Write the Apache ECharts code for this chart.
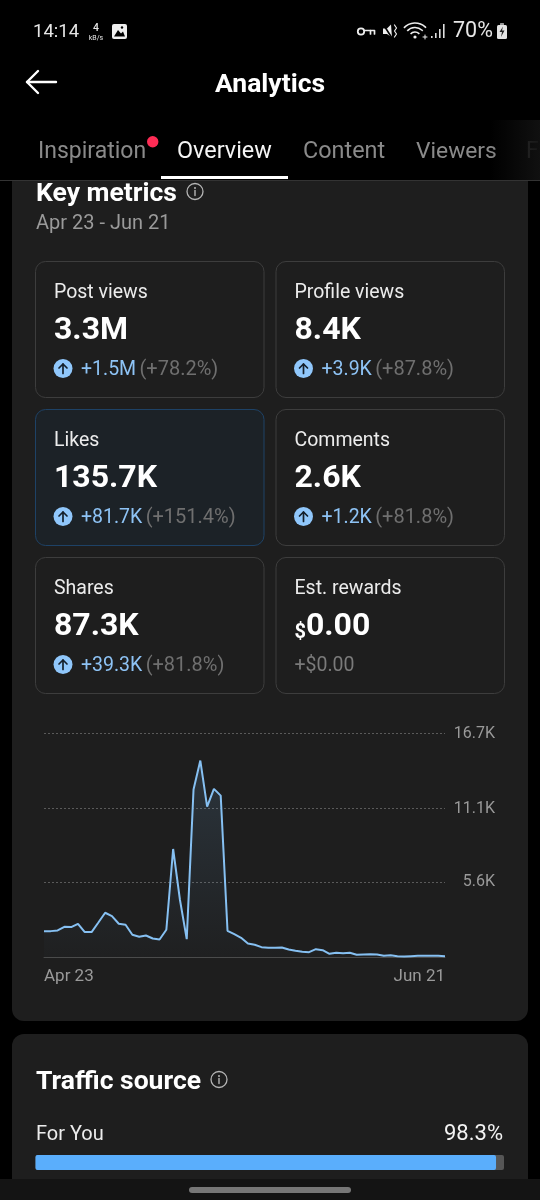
<!DOCTYPE html>
<html><head><meta charset="utf-8">
<style>html,body{margin:0;padding:0;background:#000}#c{width:540px;height:1200px}</style>
<script src="https://cdn.jsdelivr.net/npm/echarts@6/dist/echarts.min.js"></script>
</head><body><div id="c"></div>
<script>
const dates = ['Apr 23','Apr 24','Apr 25','Apr 26','Apr 27','Apr 28','Apr 29','Apr 30','May 1','May 2','May 3','May 4','May 5','May 6','May 7','May 8','May 9','May 10','May 11','May 12','May 13','May 14','May 15','May 16','May 17','May 18','May 19','May 20','May 21','May 22','May 23','May 24','May 25','May 26','May 27','May 28','May 29','May 30','May 31','Jun 1','Jun 2','Jun 3','Jun 4','Jun 5','Jun 6','Jun 7','Jun 8','Jun 9','Jun 10','Jun 11','Jun 12','Jun 13','Jun 14','Jun 15','Jun 16','Jun 17','Jun 18','Jun 19','Jun 20','Jun 21'];
const likes = [1966,1966,2016,2290,2265,2514,1892,1892,2613,3335,3086,2514,2439,1693,1543,1643,1419,1344,2066,8089,4306,1369,12519,14685,11250,12569,12071,1991,1742,1468,1045,946,772,722,722,747,597,498,423,398,622,548,274,348,324,348,199,224,249,224,124,174,100,75,100,124,124,124,124,100];
const yTicks = [5600,11100,16700];
const yTickLabels = ['5.6K','11.1K','16.7K'];
const tileLabels = ['Post views','Profile views','Likes','Comments','Shares','Est. rewards'];
const tileValues = ['3.3M','8.4K','135.7K','2.6K','87.3K','0.00'];
const tileDeltas = ['+1.5M','+3.9K','+81.7K','+1.2K','+39.3K','+$0.00'];
const tilePcts = ['(+78.2%)','(+87.8%)','(+151.4%)','(+81.8%)','(+81.8%)',''];
const trafficLabels = ['For You'];
const trafficShare = [98.3];
const tabs = ['Inspiration','Overview','Content','Viewers','F'];

const F = 'Roboto, sans-serif';
const g = [];
function txt(x,y,t,size,fill,weight,align,extra){
  g.push({type:'text',x,y,silent:true,style:Object.assign({text:t,font:(weight||400)+' '+size+'px '+F,fill,textAlign:align||'left',textVerticalAlign:'middle'},extra||{})});
}
function rect(x,y,w,h,r,fill,stroke,lw){
  g.push({type:'rect',silent:true,shape:{x,y,width:w,height:h,r},style:{fill:fill||'transparent',stroke:stroke||null,lineWidth:lw||1}});
}
function circle(cx,cy,r,fill,stroke,lw){
  g.push({type:'circle',silent:true,shape:{cx,cy,r},style:{fill:fill||'transparent',stroke:stroke||null,lineWidth:lw||1}});
}
function line(pts,stroke,lw){
  g.push({type:'polyline',silent:true,shape:{points:pts},style:{stroke,lineWidth:lw||1,fill:null,lineCap:'round',lineJoin:'round'}});
}
function info(cx,cy){
  circle(cx,cy,8,null,'#b5b5b5',1.3);
  circle(cx,cy-3.6,1,'#b5b5b5');
  line([[cx,cy-1],[cx,cy+4]],'#b5b5b5',1.4);
}
// cards
rect(12,150,516,871,12,'#1e1e1e');
rect(12,1034,516,200,12,'#1e1e1e');
// top bar
rect(0,0,540,180,0,'#000');
rect(0,180,540,1,0,'#333');
txt(33,32,'14:14',18.5,'#e6e6e6',400);
txt(96,28,'4',10.5,'#e6e6e6',500,'center');
txt(96,38.5,'kB/s',7,'#e6e6e6',400,'center');
rect(112,24,15,15,2,'#efefef');
g.push({type:'polygon',silent:true,shape:{points:[[114,36.5],[118,30],[121,33.5],[123,31.5],[125,36.5]]},style:{fill:'#000'}});
circle(122,27.5,1.2,'#000');
// key icon
circle(361,31.5,3.2,null,'#eee',1.8);
line([[364.5,30.5],[374.5,30.5],[374.5,34]],'#eee',1.7);
line([[370.5,30.5],[370.5,34]],'#eee',1.7);
// muted icon
g.push({type:'polygon',silent:true,shape:{points:[[383,28.5],[387,28.5],[391,24.5],[392,37.5],[387,34],[383,34]]},style:{fill:'#eee'}});
line([[383,24],[392,38]],'#000',1.6);
line([[394.5,25],[396.5,28],[394.5,31],[396.5,34],[394.5,37]],'#eee',1.2);
// wifi
[[15,1.6],[10.5,1.6],[6,1.6]].forEach(a=>{
  g.push({type:'arc',silent:true,shape:{cx:415,cy:38,r:a[0],startAngle:-2.4,endAngle:-0.75},style:{stroke:'#eee',fill:null,lineWidth:a[1]}});
});
circle(415,37,1.6,'#eee');
line([[423,37],[427,37]],'#eee',1);
line([[425,35],[425,39]],'#eee',1);
// signal
[[431,36,2],[435,33,5],[439,29,9],[443,24,14]].forEach(b=>rect(b[0],b[1],1.6,b[2],0,'#ddd'));
txt(453,31.5,'70%',21.5,'#e6e6e6',400);
rect(500,23,4,2.5,0.5,'#999'); rect(497,25,10,14,1.5,'#e4e4e4');
g.push({type:'polygon',silent:true,shape:{points:[[503,26.5],[499.5,32],[502,32],[501,37],[504.5,30.5],[502,30.5]]},style:{fill:'#222'}});
// header
line([[56,82],[27,82]],'#fff',2.4);
line([[38,71],[27,82],[38,93]],'#fff',2.4);
txt(270,85,'Analytics',26.5,'#fff',700,'center');
// tabs
txt(38,152,tabs[0],23,'#8a8a8a',400);
circle(152.7,141.7,5.7,'#fe2c55');
txt(177,152,tabs[1],23.4,'#f5f5f5',400);
txt(303,152,tabs[2],23.4,'#8a8a8a',400);
txt(416,152,tabs[3],22.8,'#8a8a8a',400);
txt(526,152,tabs[4],23,'#3e3e3e',400);
rect(161,176,127,3,0,'#fff');
// heading
txt(36,194,'Key metrics',26.5,'#fff',700);
info(195,191.5);
txt(36,223.5,'Apr 23 - Jun 21',20,'#9a9a9a',400);
// tiles
const tx=[35.5,276], ty=[261,409,557];
tileLabels.forEach((lab,i)=>{
  const c=i%2, r=Math.floor(i/2), x=tx[c], y=ty[r]+0.5, hi=i===2;
  rect(x,y,228.5,136,10,hi?'#1c2227':'#1e1e1e',hi?'#1e4266':'#3d3d3d',1);
  txt(x+18.5,y+32,lab,19.5,'#ececec',400);
  if(i===5){
    g.push({type:'text',x:x+18.5,y:y+69,silent:true,style:{text:'{d|$}{v|'+tileValues[i]+'}',textVerticalAlign:'middle',rich:{d:{font:'700 20px '+F,fill:'#fff',verticalAlign:'bottom'},v:{font:'700 32px '+F,fill:'#fff'}}}});
    txt(x+18.5,y+108.5,tileDeltas[i],19.5,'#7a7a7a',400);
  } else {
    txt(x+18.5,y+69,tileValues[i],32,'#fff',700);
    circle(x+27.5,y+107,9.5,'#90c7fb');
    line([[x+27.5,y+112],[x+27.5,y+102.5]],'#15202b',1.7);
    line([[x+23.5,y+106.5],[x+27.5,y+102.5],[x+31.5,y+106.5]],'#15202b',1.7);
    g.push({type:'text',x:x+45.5,y:y+108.5,silent:true,style:{text:'{a|'+tileDeltas[i]+'} {b|'+tilePcts[i]+'}',textVerticalAlign:'middle',rich:{a:{font:'400 19.5px '+F,fill:'#8ec3f5'},b:{font:'400 20px '+F,fill:'#6f6f6f'}}}});
  }
});
// traffic card
txt(36,1082,'Traffic source',26.5,'#fff',700);
info(219,1079.5);
txt(36,1134.5,trafficLabels[0],20,'#ececec',400);
txt(503,1134.5,trafficShare[0]+'%',22,'#f2f2f2',400,'right');
// nav
const nav=[];
nav.push({type:'rect',silent:true,z:100,shape:{x:0,y:1179,width:540,height:21},style:{fill:'#141414'}});
nav.push({type:'rect',silent:true,z:101,shape:{x:189,y:1187,width:162,height:6,r:3},style:{fill:'#777'}});
nav.push({type:'rect',silent:true,z:100,shape:{x:490,y:120,width:50,height:60},style:{fill:new echarts.graphic.LinearGradient(0,0,1,0,[{offset:0,color:'rgba(18,18,18,0)'},{offset:1,color:'rgba(18,18,18,0.9)'}])}});

const chart=echarts.init(document.getElementById('c'),null,{renderer:'canvas',width:540,height:1200});
chart.setOption({
  backgroundColor:'#000',animation:false,
  graphic:{elements:[{type:'group',z:-10,silent:true,children:g},{type:'group',silent:true,children:nav}]},
  grid:[
    {left:44,width:401,top:733.5,height:224,containLabel:false},
    {left:35.5,width:468.5,top:1155,height:15}
  ],
  xAxis:[
    {type:'category',gridIndex:0,data:dates,boundaryGap:false,
     axisLine:{lineStyle:{color:'#4a4a4a',width:1}},axisTick:{show:false},
     axisLabel:{interval:58,color:'#9a9a9a',fontFamily:'Roboto',fontSize:17,margin:11,alignMinLabel:'left',alignMaxLabel:'right'}},
    {type:'value',gridIndex:1,min:0,max:100,show:false}
  ],
  yAxis:[
    {type:'value',gridIndex:0,position:'right',min:0,max:16700,
     axisLine:{show:false},
     axisTick:{show:false,customValues:yTicks},
     axisLabel:{customValues:yTicks,formatter:v=>yTickLabels[yTicks.indexOf(v)]||'',color:'#9a9a9a',fontFamily:'Roboto',fontSize:16,margin:50,align:'right'},
     splitLine:{show:true,lineStyle:{color:'#5a5a5a',type:[2,2],width:1}}},
    {type:'category',gridIndex:1,data:trafficLabels,show:false}
  ],
  series:[
    {type:'line',xAxisIndex:0,yAxisIndex:0,data:likes,symbol:'none',smooth:false,
     lineStyle:{color:'#86c0f2',width:2},
     areaStyle:{color:new echarts.graphic.LinearGradient(0,0,0,1,[{offset:0,color:'rgba(110,165,215,0.24)'},{offset:1,color:'rgba(110,165,215,0.02)'}])}},
    {type:'bar',xAxisIndex:1,yAxisIndex:1,data:trafficShare,barWidth:15,
     showBackground:true,backgroundStyle:{color:'#565656',borderRadius:2},
     itemStyle:{color:'#5aaefc',borderRadius:2}}
  ]
});
</script></body></html>
